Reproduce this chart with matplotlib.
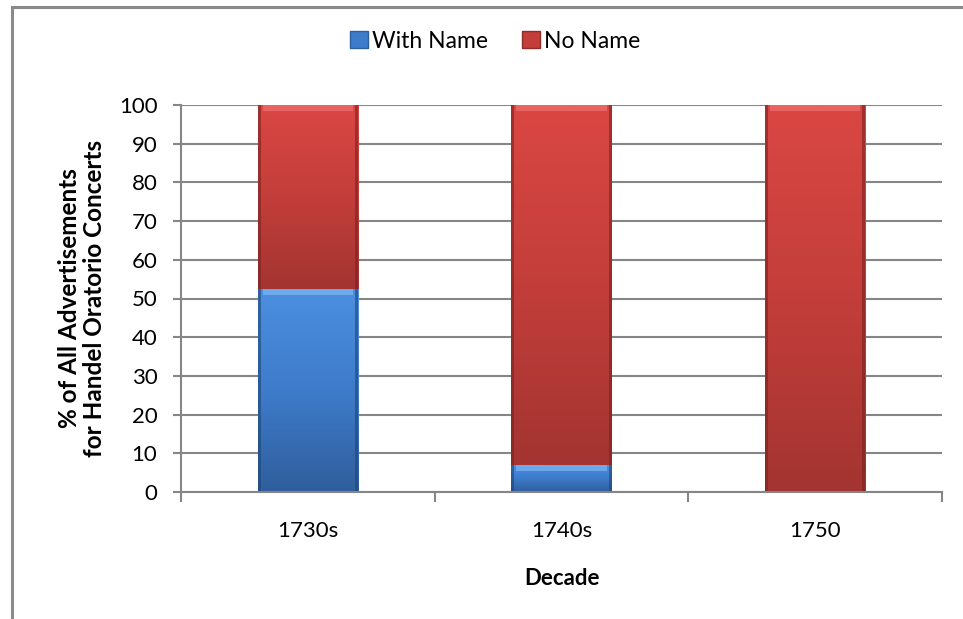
import numpy as np
import matplotlib
matplotlib.use("Agg")
import matplotlib.pyplot as plt
from matplotlib.patches import Rectangle, Patch
from matplotlib.colors import LinearSegmentedColormap

plt.rcParams['font.family'] = ['Lato', 'DejaVu Sans']

categories = ["1730s", "1740s", "1750"]
with_name = [52.5, 7, 0]
no_name = [47.5, 93, 100]
series_names = ["With Name", "No Name"]
yticks = list(range(0, 101, 10))

W, H = 963, 619
fig = plt.figure(figsize=(W / 100, H / 100), dpi=100)
ax = fig.add_axes([181 / W, 1 - 492 / H, (942 - 181) / W, (492 - 105) / H])

x = np.arange(len(categories))
bw = 0.395
grid_c = "#868686"

blue_cmap = LinearSegmentedColormap.from_list("b", ["#4C8FE0", "#3E7CCB", "#2F5E9C"])
red_cmap = LinearSegmentedColormap.from_list("r", ["#DA4743", "#C33E3A", "#A33431"])

def grad_bar(xc, bottom, height, cmap, edge, light):
    if height <= 0:
        return
    b = ax.bar(xc, height, bw, bottom=bottom, color="none", zorder=3)[0]
    grad = np.linspace(0, 1, 256).reshape(-1, 1)
    im = ax.imshow(grad, cmap=cmap, aspect="auto", origin="upper",
                   extent=[xc - bw / 2, xc + bw / 2, bottom, bottom + height],
                   zorder=3)
    im.set_clip_path(b)
    hh = min(1.6, height * 0.3)
    ax.add_patch(Rectangle((xc - bw / 2 + 0.02, bottom + height - hh), bw - 0.04, hh,
                           facecolor=light, edgecolor="none", alpha=0.7, zorder=4))
    ax.add_patch(Rectangle((xc - bw / 2, bottom), 0.012, height,
                           facecolor=edge, edgecolor="none", alpha=0.6, zorder=4))
    ax.add_patch(Rectangle((xc + bw / 2 - 0.012, bottom), 0.012, height,
                           facecolor=edge, edgecolor="none", alpha=0.6, zorder=4))

for i in range(len(categories)):
    grad_bar(x[i], 0, with_name[i], blue_cmap, "#1F4475", "#7DB5F5")
    grad_bar(x[i], with_name[i], no_name[i], red_cmap, "#7A2220", "#EE7270")

ax.set_xlim(-0.5, len(categories) - 0.5)
ax.set_ylim(0, 100)
ax.set_yticks(yticks)
ax.set_xticks(x)
ax.set_xticklabels(categories)
ax.set_xticks(np.arange(-0.5, len(categories), 1.0), minor=True)
ax.yaxis.grid(True, color=grid_c, linewidth=1.5, zorder=0)
ax.set_axisbelow(True)
for s in ["top", "right"]:
    ax.spines[s].set_visible(False)
for s in ["left", "bottom"]:
    ax.spines[s].set_color(grid_c)
    ax.spines[s].set_linewidth(1.5)
    ax.spines[s].set_zorder(5)
ax.tick_params(axis="y", length=6, width=1.5, color=grid_c, labelsize=16, pad=11)
ax.tick_params(axis="x", which="major", length=0, labelsize=16, pad=21)
ax.tick_params(axis="x", which="minor", length=7, width=1.5, color=grid_c)

ax.set_xlabel("Decade", fontsize=16, fontweight="bold", labelpad=19)
ax.set_ylabel("% of All Advertisements\nfor Handel Oratorio Concerts", fontsize=17.5,
              fontweight="bold", labelpad=9, linespacing=1.12)

handles = [Patch(facecolor="#3E7CCB", edgecolor="#2F5E9C"),
           Patch(facecolor="#C33E3A", edgecolor="#8E2C29")]
fig.legend(handles, series_names, loc="center", bbox_to_anchor=(495 / W, 1 - 41 / H),
           ncol=2, frameon=False, fontsize=16.5, handlelength=0.8, handleheight=0.8,
           handletextpad=0.15, columnspacing=1.5)

fig.patches.append(Rectangle((11.5 / W, -0.05), 1.1, 1 - 7 / H + 0.05,
                             transform=fig.transFigure, fill=False,
                             edgecolor="#8A8A8A", linewidth=2.2))

fig.savefig("out.png", dpi=100)
